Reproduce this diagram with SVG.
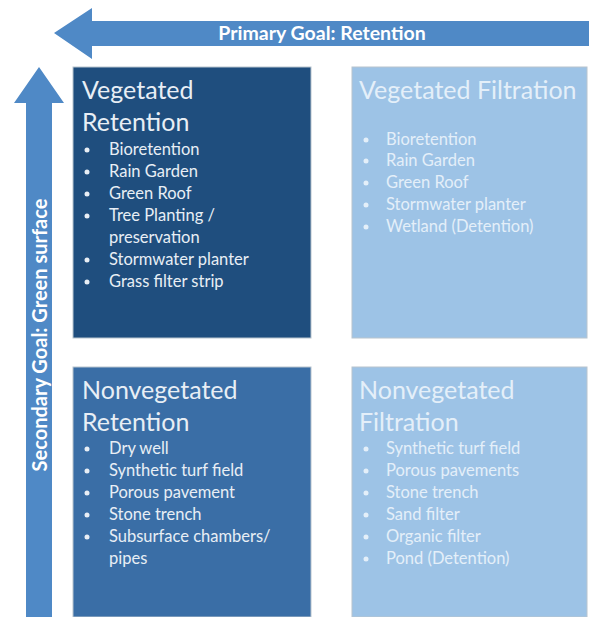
<svg xmlns="http://www.w3.org/2000/svg" width="589" height="617" viewBox="0 0 589 617">
  <style>
    .arrow { fill: #4F89C6; }
    .axis-label { font-family: Lato, "Liberation Sans", sans-serif; font-weight: bold; fill: #FFFFFF; }
    .box { stroke: #B8C4CE; stroke-width: 1; }
    .title { font-family: Lato, "Liberation Sans", sans-serif; font-size: 25px; }
    .item { font-family: Lato, "Liberation Sans", sans-serif; font-size: 16.5px; }
    .dark text { fill: #E8EEF5; }
    .dark circle { fill: #E8EEF5; }
    .light text { fill: #E4EFF9; }
    .light circle { fill: #E4EFF9; }
  </style>

  <!-- axis arrows -->
  <g id="connectors">
    <g id="primary-goal">
      <polygon class="arrow" points="589,21 92,21 92,8 54,33 92,59 92,46 589,46"/>
      <text class="axis-label" x="322" y="40" font-size="19.5" text-anchor="middle">Primary Goal: Retention</text>
    </g>
    <g id="secondary-goal">
      <polygon class="arrow" points="26,617 26,103 14,103 39,67 64,103 52,103 52,617"/>
      <text class="axis-label" transform="translate(47,335) rotate(-90)" font-size="20" text-anchor="middle">Secondary Goal: Green surface</text>
    </g>
  </g>

  <!-- quadrant: vegetated retention -->
  <g id="vegetated-retention" class="dark">
    <rect class="box" x="73" y="67" width="238" height="271" fill="#1F4E7E"/>
    <text class="title" x="82" y="99">Vegetated</text>
    <text class="title" x="82" y="131">Retention</text>
    <g class="item">
      <circle cx="87" cy="150" r="2.5"/><text x="109" y="155">Bioretention</text>
      <circle cx="87" cy="172" r="2.5"/><text x="109" y="177">Rain Garden</text>
      <circle cx="87" cy="194" r="2.5"/><text x="109" y="199">Green Roof</text>
      <circle cx="87" cy="216" r="2.5"/><text x="109" y="221">Tree Planting /</text>
      <text x="109" y="243">preservation</text>
      <circle cx="87" cy="260" r="2.5"/><text x="109" y="265">Stormwater planter</text>
      <circle cx="87" cy="282" r="2.5"/><text x="109" y="287">Grass filter strip</text>
    </g>
  </g>

  <!-- quadrant: vegetated filtration -->
  <g id="vegetated-filtration" class="light">
    <rect class="box" x="352" y="67" width="235" height="271" fill="#9DC3E6"/>
    <text class="title" x="359" y="99">Vegetated Filtration</text>
    <g class="item">
      <circle cx="366" cy="140" r="2.5"/><text x="386" y="145">Bioretention</text>
      <circle cx="366" cy="161" r="2.5"/><text x="386" y="166">Rain Garden</text>
      <circle cx="366" cy="183" r="2.5"/><text x="386" y="188">Green Roof</text>
      <circle cx="366" cy="205" r="2.5"/><text x="386" y="210">Stormwater planter</text>
      <circle cx="366" cy="227" r="2.5"/><text x="386" y="232">Wetland (Detention)</text>
    </g>
  </g>

  <!-- quadrant: nonvegetated retention -->
  <g id="nonvegetated-retention" class="dark">
    <rect class="box" x="73" y="367" width="238" height="250" fill="#3A6EA6"/>
    <text class="title" x="82" y="399">Nonvegetated</text>
    <text class="title" x="82" y="431">Retention</text>
    <g class="item">
      <circle cx="87" cy="449" r="2.5"/><text x="109" y="454">Dry well</text>
      <circle cx="87" cy="471" r="2.5"/><text x="109" y="476">Synthetic turf field</text>
      <circle cx="87" cy="493" r="2.5"/><text x="109" y="498">Porous pavement</text>
      <circle cx="87" cy="515" r="2.5"/><text x="109" y="520">Stone trench</text>
      <circle cx="87" cy="537" r="2.5"/><text x="109" y="542">Subsurface chambers/</text>
      <text x="109" y="564">pipes</text>
    </g>
  </g>

  <!-- quadrant: nonvegetated filtration -->
  <g id="nonvegetated-filtration" class="light">
    <rect class="box" x="352" y="367" width="235" height="250" fill="#9DC3E6"/>
    <text class="title" x="359" y="399">Nonvegetated</text>
    <text class="title" x="359" y="431">Filtration</text>
    <g class="item">
      <circle cx="366" cy="449" r="2.5"/><text x="386" y="454">Synthetic turf field</text>
      <circle cx="366" cy="471" r="2.5"/><text x="386" y="476">Porous pavements</text>
      <circle cx="366" cy="493" r="2.5"/><text x="386" y="498">Stone trench</text>
      <circle cx="366" cy="515" r="2.5"/><text x="386" y="520">Sand filter</text>
      <circle cx="366" cy="537" r="2.5"/><text x="386" y="542">Organic filter</text>
      <circle cx="366" cy="559" r="2.5"/><text x="386" y="564">Pond (Detention)</text>
    </g>
  </g>
</svg>
